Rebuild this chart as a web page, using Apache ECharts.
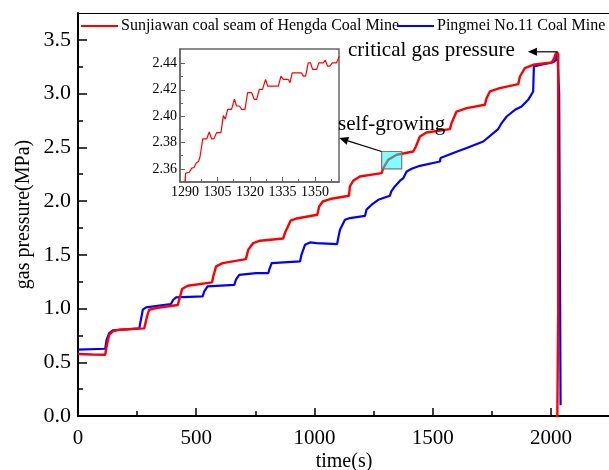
<!DOCTYPE html>
<html>
<head>
<meta charset="utf-8">
<script src="https://cdn.jsdelivr.net/npm/echarts@6/dist/echarts.min.js"></script>
<style>
  html, body { margin: 0; padding: 0; background: #fff; }
  #chart { width: 609px; height: 470px; }
</style>
</head>
<body>
<div id="chart"></div>
<script>
// main curves: time (s) / gas pressure (MPa)
const redTime = [0, 60, 115, 121, 132, 147, 175, 280, 285, 292, 301, 330, 422, 428, 440, 464, 567, 572, 584, 612,
  710, 720, 741, 770, 868, 875, 899, 925, 1012, 1020, 1035, 1066, 1146, 1150, 1164, 1192, 1284, 1291, 1312, 1348,
  1418, 1429, 1446, 1474, 1573, 1580, 1601, 1644, 1721, 1728, 1742, 1784, 1862, 1869, 1890, 1925, 2003, 2014, 2021, 2028,
  2031, 2031, 2027]
const redPressure = [0.577, 0.572, 0.570, 0.647, 0.756, 0.787, 0.803, 0.815, 0.826, 0.927, 0.989, 1.005, 1.033, 1.051, 1.181, 1.212, 1.243, 1.299, 1.392, 1.423,
  1.460, 1.547, 1.609, 1.631, 1.652, 1.702, 1.817, 1.838, 1.873, 1.950, 1.996, 2.019, 2.049, 2.136, 2.189, 2.229, 2.260, 2.307, 2.384, 2.431,
  2.461, 2.508, 2.601, 2.638, 2.670, 2.726, 2.833, 2.865, 2.896, 2.958, 3.020, 3.051, 3.088, 3.159, 3.237, 3.268, 3.289, 3.330, 3.377, 3.389,
  3.370, 1.000, -0.05]

const blueTime = [0, 115, 121, 132, 147, 259, 266, 274, 288, 393, 403, 414, 527, 534, 548, 661, 668, 682, 753, 805,
  810, 819, 939, 945, 960, 981, 1009, 1096, 1101, 1108, 1129, 1150, 1214, 1220, 1242, 1270, 1319, 1325, 1340, 1362,
  1376, 1390, 1411, 1446, 1531, 1533, 1587, 1644, 1714, 1777, 1790, 1813, 1848, 1876, 1904, 1925, 1928, 1960, 2010, 2021,
  2027, 2035, 2037, 2041]
const bluePressure = [0.617, 0.626, 0.710, 0.772, 0.796, 0.815, 0.896, 0.989, 1.010, 1.042, 1.082, 1.103, 1.113, 1.159, 1.206, 1.221, 1.268, 1.314, 1.330, 1.330,
  1.370, 1.423, 1.438, 1.500, 1.593, 1.615, 1.609, 1.600, 1.660, 1.733, 1.826, 1.842, 1.863, 1.920, 1.966, 2.012, 2.049, 2.090, 2.136, 2.190,
  2.214, 2.275, 2.300, 2.328, 2.368, 2.400, 2.447, 2.493, 2.554, 2.670, 2.720, 2.787, 2.849, 2.880, 2.942, 3.020, 3.252, 3.270, 3.292, 3.314,
  3.389, 3.000, 2.000, 0.100]

// inset: zoom on the self-growing stage of the red curve
const insetTime = [1290, 1290.3, 1290.8, 1292, 1293.1, 1294.2, 1295.1, 1296.2, 1296.9, 1298.2, 1300, 1301.2, 1302.3, 1303.4, 1304.6, 1306.6,
  1307.7, 1308.6, 1309.7, 1311.5, 1312.8, 1313.8, 1315.1, 1316.2, 1317.7, 1318.9, 1320.8, 1322, 1323.1, 1324.3, 1325.8, 1327.2,
  1328.2, 1333.1, 1334.3, 1335.4, 1337.7, 1338.5, 1339.5, 1343.8, 1344.6, 1345.7, 1346.9, 1348, 1348.9, 1350.8, 1351.8, 1353.8,
  1354.8, 1355.8, 1356.9, 1358, 1360, 1361.2]
const insetPressure = [2.350, 2.3567, 2.3572, 2.3574, 2.3605, 2.361, 2.3642, 2.3655, 2.3688, 2.3827, 2.3827, 2.388, 2.3827, 2.3829, 2.3875, 2.3875,
  2.4004, 2.3978, 2.4052, 2.4052, 2.413, 2.4077, 2.4077, 2.4052, 2.4052, 2.4178, 2.4178, 2.4127, 2.4127, 2.4203, 2.4203, 2.4279,
  2.4228, 2.4228, 2.4304, 2.4279, 2.4279, 2.4254, 2.4329, 2.4329, 2.4304, 2.4304, 2.4405, 2.4405, 2.4355, 2.4355, 2.4405, 2.4405,
  2.4425, 2.438, 2.438, 2.4405, 2.4405, 2.4456]

const xMinorTicks = [250, 750, 1250, 1750]
const yMinorTicks = [0.25, 0.75, 1.25, 1.75, 2.25, 2.75, 3.25]
const insetXTicks = [1290, 1305, 1320, 1335, 1350]
const insetXMinor = [1297.5, 1312.5, 1327.5, 1342.5, 1357.5]
const insetYTicks = [2.36, 2.38, 2.40, 2.42, 2.44]
const insetYMinor = [2.37, 2.39, 2.41, 2.43]

const seriesNames = ['Sunjiawan coal seam of Hengda Coal Mine', 'Pingmei No.11 Coal Mine']

const zip = (a, b) => a.map((v, i) => [v, b[i]])
const font = 'Liberation Serif'

const chart = echarts.init(document.getElementById('chart'))

const legendBase = {
  top: 13,
  icon: 'rect',
  itemWidth: 37,
  itemHeight: 2,
  textStyle: { fontFamily: font, fontSize: 16, color: '#000', padding: [0, 0, 0, -2] }
}

const option = {
  animation: false,
  textStyle: { fontFamily: font, color: '#000' },
  legend: [
    { ...legendBase, data: [seriesNames[0]], left: 76 },
    { ...legendBase, data: [seriesNames[1]], left: 392 }
  ],
  grid: [
    { left: 78, right: -1, top: 13, bottom: 54, outerBoundsMode: 'none', containLabel: false },
    { left: 180, top: 49, width: 159, height: 133, outerBoundsMode: 'none', containLabel: false,
      show: true, borderColor: '#666', borderWidth: 1.5, backgroundColor: '#fff' }
  ],
  xAxis: [
    {
      type: 'value', gridIndex: 0, min: 0, max: 2250, interval: 500,
      name: 'time(s)', nameLocation: 'middle', nameGap: 36, nameMoveOverlap: false,
      nameTextStyle: { fontFamily: font, fontSize: 20, color: '#000' },
      axisLine: { lineStyle: { color: '#000', width: 2 } },
      axisTick: { inside: true, length: 8, lineStyle: { color: '#000', width: 1.5 } },
      axisLabel: { fontFamily: font, fontSize: 21, color: '#000', margin: 12, showMaxLabel: false,
        formatter: v => String(v) },
      splitLine: { show: false }
    },
    {
      type: 'value', gridIndex: 0, min: 0, max: 2250, position: 'bottom',
      axisLine: { show: false }, axisLabel: { show: false }, splitLine: { show: false },
      axisTick: { inside: true, length: 5, customValues: xMinorTicks, lineStyle: { color: '#000', width: 1.5 } }
    },
    {
      type: 'value', gridIndex: 0, min: 0, max: 2250, position: 'top',
      axisLine: { lineStyle: { color: '#000', width: 1.2 } },
      axisTick: { show: false }, axisLabel: { show: false }, splitLine: { show: false }
    },
    {
      type: 'value', gridIndex: 1, min: 1287.7, max: 1361.1,
      axisLine: { lineStyle: { color: '#666', width: 1.5 } },
      axisTick: { inside: true, length: 5, customValues: insetXTicks, lineStyle: { color: '#666' } },
      axisLabel: { customValues: insetXTicks, fontFamily: font, fontSize: 14, color: '#000', margin: 3,
        formatter: v => String(v) },
      splitLine: { show: false }
    },
    {
      type: 'value', gridIndex: 1, min: 1287.7, max: 1361.1, position: 'bottom',
      axisLine: { show: false }, axisLabel: { show: false }, splitLine: { show: false },
      axisTick: { inside: true, length: 3, customValues: insetXMinor, lineStyle: { color: '#666' } }
    }
  ],
  yAxis: [
    {
      type: 'value', gridIndex: 0, min: 0, max: 3.75, interval: 0.5,
      name: 'gas pressure(MPa)', nameLocation: 'middle', nameGap: 44, nameRotate: 90, nameMoveOverlap: false,
      nameTextStyle: { fontFamily: font, fontSize: 20, color: '#000' },
      axisLine: { lineStyle: { color: '#000', width: 2 } },
      axisTick: { inside: true, length: 9, lineStyle: { color: '#000', width: 1.5 } },
      axisLabel: { fontFamily: font, fontSize: 22, color: '#000', margin: 7, showMaxLabel: false,
        formatter: v => v.toFixed(1) },
      splitLine: { show: false }
    },
    {
      type: 'value', gridIndex: 0, min: 0, max: 3.75, position: 'left',
      axisLine: { show: false }, axisLabel: { show: false }, splitLine: { show: false },
      axisTick: { inside: true, length: 5, customValues: yMinorTicks, lineStyle: { color: '#000', width: 1.5 } }
    },
    {
      type: 'value', gridIndex: 1, min: 2.35, max: 2.451,
      axisLine: { lineStyle: { color: '#666', width: 1.5 } },
      axisTick: { inside: true, length: 5, customValues: insetYTicks, lineStyle: { color: '#666' } },
      axisLabel: { customValues: insetYTicks, fontFamily: font, fontSize: 14, color: '#000', margin: 3,
        formatter: v => v.toFixed(2) },
      splitLine: { show: false }
    },
    {
      type: 'value', gridIndex: 1, min: 2.35, max: 2.451, position: 'left',
      axisLine: { show: false }, axisLabel: { show: false }, splitLine: { show: false },
      axisTick: { inside: true, length: 3, customValues: insetYMinor, lineStyle: { color: '#666' } }
    }
  ],
  series: [
    {
      name: seriesNames[0], type: 'line', xAxisIndex: 0, yAxisIndex: 0,
      data: zip(redTime, redPressure), showSymbol: false, color: '#ff0000',
      lineStyle: { width: 2.4 }, z: 3
    },
    {
      name: seriesNames[1], type: 'line', xAxisIndex: 0, yAxisIndex: 0,
      data: zip(blueTime, bluePressure), showSymbol: false, color: '#0000ff',
      lineStyle: { width: 2.2 }, z: 2
    },
    {
      name: 'inset', type: 'line', xAxisIndex: 3, yAxisIndex: 2,
      data: zip(insetTime, insetPressure), showSymbol: false, color: '#ff0000',
      lineStyle: { width: 1.2 }
    }
  ]
}

chart.setOption(option)

// annotations placed from data coordinates
const px = (t, p) => chart.convertToPixel({ xAxisIndex: 0, yAxisIndex: 0 }, [t, p])
const peak = px(2028, 3.389)
const critEnd = px(1903, 3.389)
const boxA = px(1284, 2.461)
const boxB = px(1369, 2.30)
const growEnd = px(1105, 2.586)

function arrow (from, to) {
  const ang = Math.atan2(to[1] - from[1], to[0] - from[0])
  const len = 9, w = 4
  const bx = to[0] - len * Math.cos(ang), by = to[1] - len * Math.sin(ang)
  return [
    { type: 'line', z: 100, shape: { x1: from[0], y1: from[1], x2: bx, y2: by }, style: { stroke: '#000', lineWidth: 1.2 } },
    { type: 'polygon', z: 100, shape: { points: [to,
      [bx + w * Math.sin(ang), by - w * Math.cos(ang)],
      [bx - w * Math.sin(ang), by + w * Math.cos(ang)]] }, style: { fill: '#000' } }
  ]
}

chart.setOption({
  graphic: [
    { type: 'rect', z: 100, shape: { x: boxA[0], y: boxA[1], width: boxB[0] - boxA[0], height: boxB[1] - boxA[1] },
      style: { fill: 'rgba(0,255,255,0.5)', stroke: '#777', lineWidth: 1.2 } },
    ...arrow(boxA, growEnd),
    ...arrow(peak, critEnd),
    { type: 'text', z: 100, left: 338, top: 114, style: { text: 'self-growing', font: '21px "Liberation Serif"', fill: '#000' } },
    { type: 'text', z: 100, left: 348, top: 40, style: { text: 'critical gas pressure', font: '21px "Liberation Serif"', fill: '#000' } }
  ]
})
</script>
</body>
</html>
